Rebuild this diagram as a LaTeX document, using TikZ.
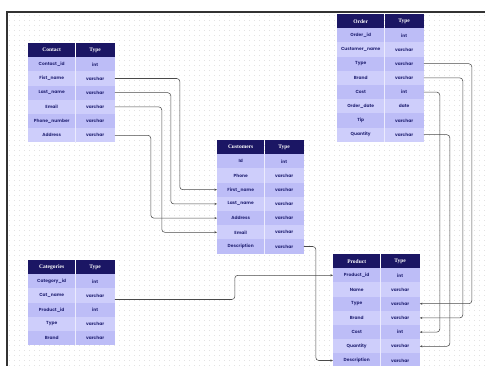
\documentclass[tikz,border=0pt]{standalone}
\usepackage{fontspec}
\setmainfont{Liberation Serif}
\newfontfamily\rowfont{Poppins}
\usetikzlibrary{arrows.meta,calc}
\definecolor{hdr}{HTML}{1B1664}
\definecolor{rowA}{HTML}{BDBDF7}
\definecolor{rowB}{HTML}{CECEFB}
\definecolor{rowtxt}{HTML}{2A2A7A}
\definecolor{connc}{HTML}{4A4A4A}
\tikzset{
  hcell/.style={anchor=north west, fill=hdr, text=white, inner sep=0pt, minimum height=14pt,
     font=\bfseries\fontsize{5.5}{6}\selectfont},
  rcell/.style={anchor=north west, text=rowtxt, inner sep=0pt, minimum height=14.2pt,
     font=\rowfont\bfseries\fontsize{4.4}{5}\selectfont},
  conn/.style={draw=connc, line width=0.55pt, rounded corners=3pt,
     -{Stealth[length=2.6pt,width=2.2pt]}},
}
\newcommand{\ertable}[5]{%
  \node[hcell, minimum width=47pt] (#1-0) at (#2,#3) {#4};
  \node[hcell, minimum width=39pt] (#1-0-t) at (#1-0.north east) {Type};
  \foreach \a/\b [count=\i] in {#5} {
    \ifodd\i \def\rc{rowA}\else\def\rc{rowB}\fi
    \node[rcell, fill=\rc, minimum width=47pt] (#1-\i) at (#2,{#3+14+(\i-1)*14.2}) {\a};
    \node[rcell, fill=\rc, minimum width=39pt] (#1-\i-t) at (#1-\i.north east) {\b};
    \draw[white!70!rowA, line width=0.3pt] (#1-\i.north east) -- (#1-\i.south east);
  }
}
\begin{document}
\begin{tikzpicture}[x=1pt,y=-1pt]
\useasboundingbox (0,0) rectangle (485,365);
\clip (0,0) rectangle (485,365);
\fill[white] (0,0) rectangle (485,365);
% dotted grid
\foreach \yy in {15,20,...,365} {
  \draw[gray!22, line width=0.7pt, dash pattern=on 0.7pt off 4.3pt] (9,\yy) -- (485,\yy);
}
% frame
\draw[black!80, line width=1.1pt] (7,500) -- (7,12) -- (600,12);

\ertable{contact}{28}{43}{Contact}{Contact\_id/int,Fist\_name/varchar,Last\_name/varchar,Email/varchar,Phone\_number/varchar,Address/varchar}
\ertable{order}{337}{14}{Order}{Order\_id/int,Customer\_name/varchar,Type/varchar,Brand/varchar,Cost/int,Order\_date/date,Tip/varchar,Quantity/varchar}
\ertable{cust}{217}{140}{Customers}{Id/int,Phone/varchar,First\_name/varchar,Last\_name/varchar,Address/varchar,Email/varchar,Description/varchar}
\ertable{cat}{28}{260}{Categories}{Category\_id/int,Cat\_name/varchar,Product\_id/int,Type/varchar,Brand/varchar}
\ertable{prod}{333}{254}{Product}{Product\_id/int,Name/varchar,Type/varchar,Brand/varchar,Cost/int,Quantity/varchar,Description/varchar}

% connectors Contact -> Customers
\draw[conn] (contact-2-t.east) -- ++(65,0) |- (cust-3.west);
\draw[conn] (contact-3-t.east) -- ++(56,0) |- (cust-4.west);
\draw[conn] (contact-4-t.east) -- ++(47,0) |- (cust-6.west);
\draw[conn] (contact-6-t.east) -- ++(36,0) |- (cust-5.west);
% Order -> Product
\draw[conn] (order-3-t.east) -- ++(48,0) |- (prod-3-t.east);
\draw[conn] (order-4-t.east) -- ++(39,0) |- (prod-4-t.east);
\draw[conn] (order-5-t.east) -- ++(16,0) |- (prod-5-t.east);
\draw[conn] (order-8-t.east) -- ++(26,0) |- (prod-6-t.east);
% Customers -> Product
\draw[conn] (cust-7-t.east) -- ++(12,0) |- (prod-7.west);
% Categories -> Product
\coordinate (catout) at ($(cat-2-t.east)+(0,4)$);
\draw[conn] (catout) -- ++(120,0) |- (prod-1.west);
\end{tikzpicture}
\end{document}
